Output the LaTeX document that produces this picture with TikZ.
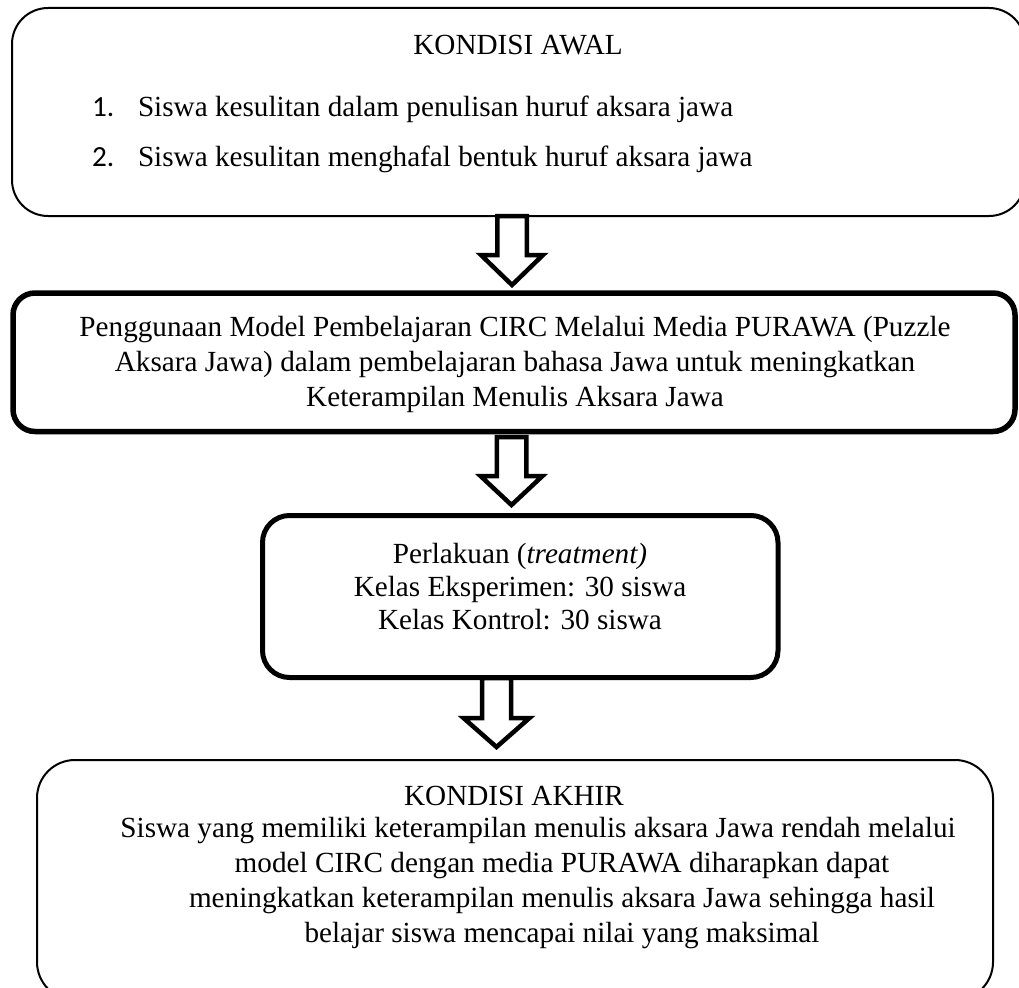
\documentclass[tikz,border=0pt]{standalone}
\usepackage{fontspec}
\setmainfont{Liberation Serif}
\newfontfamily\numfont{Carlito}
\tikzset{
  txt/.style={font=\fontsize{29.2}{35}\selectfont, inner sep=0pt, outer sep=0pt, anchor=base},
  txtw/.style={txt, anchor=base west},
  thinbox/.style={draw, line width=2pt, inner sep=0pt, outer sep=0pt, rectangle},
  thickbox/.style={draw, line width=5.5pt, inner sep=0pt, outer sep=0pt, rectangle},
  barrow/.style={draw, line width=4.5pt, fill=white, line join=miter, miter limit=10}
}
\begin{document}
\begin{tikzpicture}[x=1pt,y=-1pt]
\useasboundingbox (0,0) rectangle (1019,987);
\fill[white] (0,0) rectangle (1019,987);
\begin{scope}
\clip (0,0) rectangle (1019,987);
% boxes
\node[thinbox, rounded corners=36pt, minimum width=1013pt, minimum height=208pt] (b1) at (518.5,112) {};
\node[thickbox, rounded corners=22pt, minimum width=1002pt, minimum height=138.5pt] (b2) at (514,362.25) {};
\node[thickbox, line width=5pt, rounded corners=27pt, minimum width=515.5pt, minimum height=162pt] (b3) at (520.25,596.5) {};
\node[thinbox, rounded corners=38pt, minimum width=956pt, minimum height=240pt] (b4) at (515,880) {};
\end{scope}
% texts box 1
\node[txt] (t1) at (518,55) {KONDISI AWAL};
\node[txtw, font=\numfont\fontsize{29.2}{35}\selectfont] (n1) at (92,117) {1.};
\node[txtw] (t1a) at (138,117) {Siswa kesulitan dalam penulisan huruf aksara jawa};
\node[txtw, font=\numfont\fontsize{29.2}{35}\selectfont] (n2) at (92,167) {2.};
\node[txtw] (t1b) at (138,167) {Siswa kesulitan menghafal bentuk huruf aksara jawa};
% texts box 2
\node[txt] (t2a) at (515,336) {Penggunaan Model Pembelajaran CIRC Melalui Media PURAWA (Puzzle};
\node[txt] (t2b) at (515,371) {Aksara Jawa) dalam pembelajaran bahasa Jawa untuk meningkatkan};
\node[txt] (t2c) at (515,406) {Keterampilan Menulis Aksara Jawa};
% texts box 3
\node[txt] (t3a) at (520,563) {Perlakuan (\textit{treatment)}};
\node[txt] (t3b) at (520,596) {Kelas Eksperimen: 30 siswa};
\node[txt] (t3c) at (520,629) {Kelas Kontrol: 30 siswa};
% texts box 4
\node[txt] (t4a) at (514,805) {KONDISI AKHIR};
\node[txt] (t4b) at (538,837) {Siswa yang memiliki keterampilan menulis aksara Jawa rendah melalui};
\node[txt] (t4c) at (562,872) {model CIRC dengan media PURAWA diharapkan dapat};
\node[txt] (t4d) at (562,907) {meningkatkan keterampilan menulis aksara Jawa sehingga hasil};
\node[txt] (t4e) at (562,942) {belajar siswa mencapai nilai yang maksimal};
% arrows
\coordinate (a1s) at (512,216);
\coordinate (a1e) at (512,285);
\draw[barrow] ([xshift=-14.75pt]a1s) -- ++(0,39) -- ++(-16.25,0) -- (a1e)
  -- ([shift={(31,39)}]a1s) -- ++(-16.25,0) -- ([xshift=14.75pt]a1s) -- cycle;
\coordinate (a2s) at (511.5,437);
\coordinate (a2e) at (511.5,505);
\draw[barrow] ([xshift=-14.75pt]a2s) -- ++(0,39) -- ++(-16.25,0) -- (a2e)
  -- ([shift={(31,39)}]a2s) -- ++(-16.25,0) -- ([xshift=14.75pt]a2s) -- cycle;
\coordinate (a3s) at (496.5,678);
\coordinate (a3e) at (496.5,747);
\draw[barrow] ([xshift=-14.5pt]a3s) -- ++(0,40) -- ++(-18.5,0) -- (a3e)
  -- ([shift={(33,40)}]a3s) -- ++(-18.5,0) -- ([xshift=14.5pt]a3s) -- cycle;
\end{tikzpicture}
\end{document}
